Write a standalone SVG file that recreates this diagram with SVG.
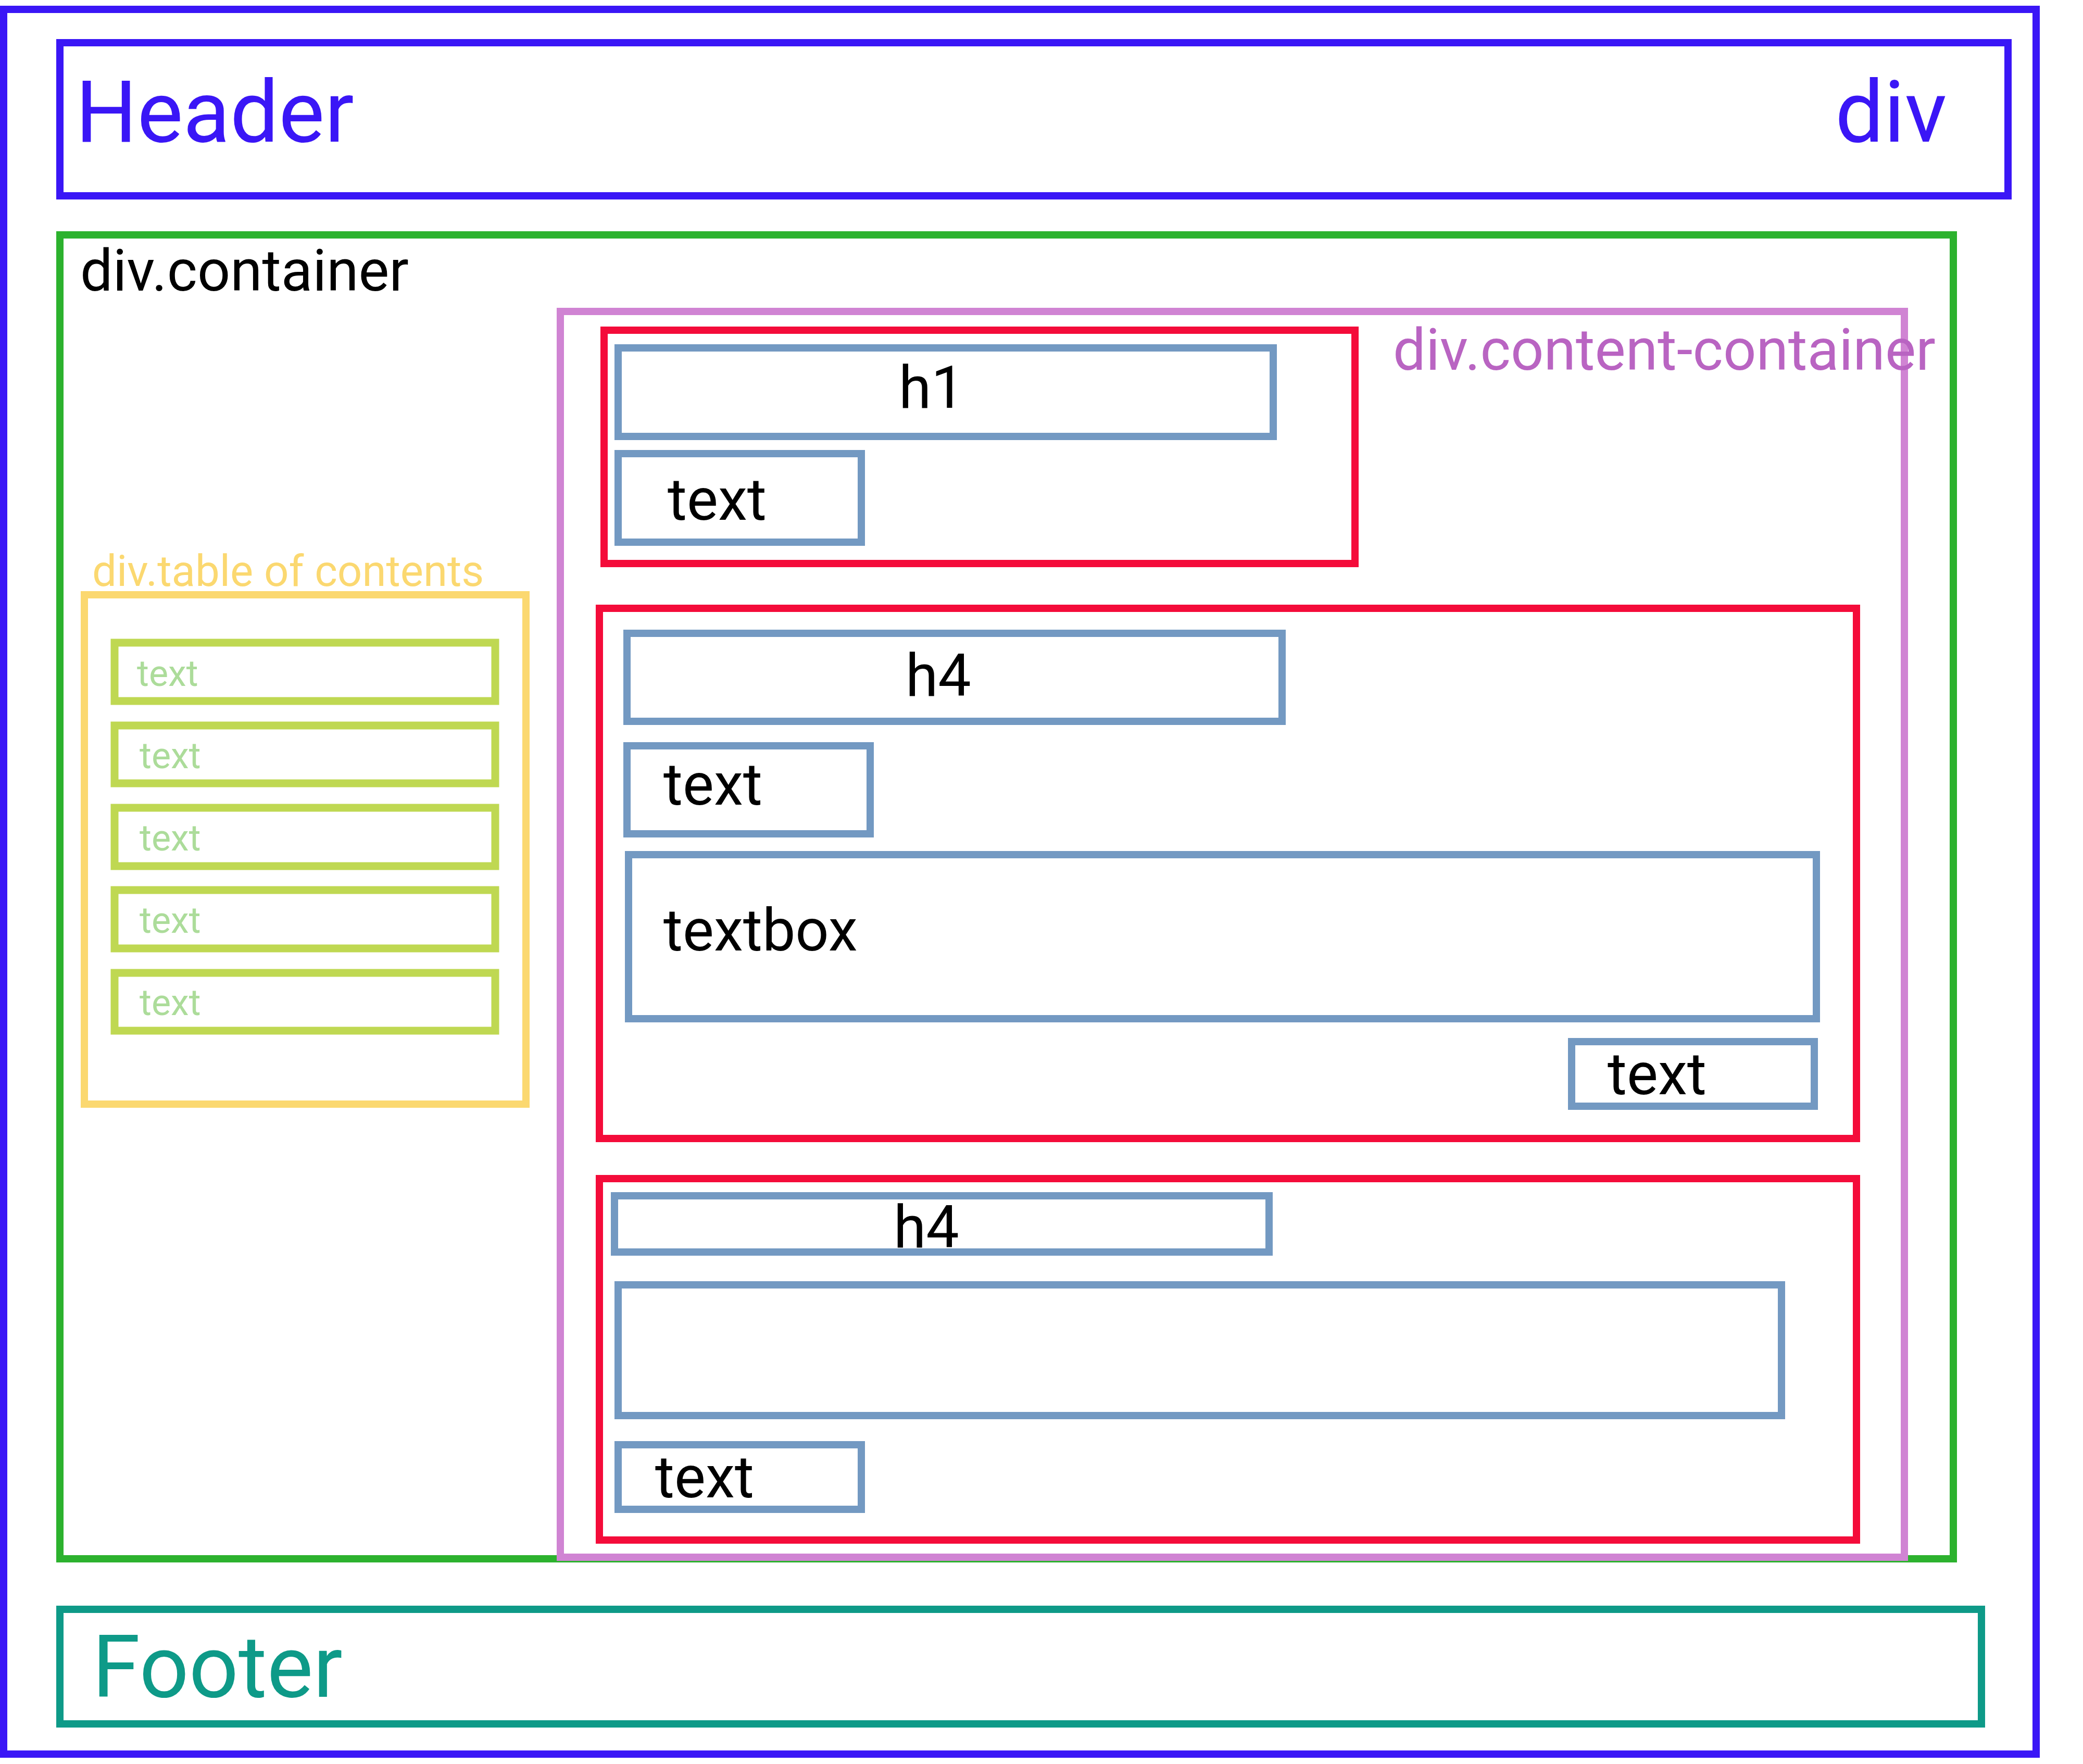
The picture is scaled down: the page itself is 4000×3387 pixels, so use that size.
<svg xmlns="http://www.w3.org/2000/svg" width="4000" height="3387" viewBox="0 0 4000 3387">
<style>
  rect { fill: none; stroke-width: 14; }
  text { font-family: Roboto, "Liberation Sans", sans-serif; }
  .outer { stroke: #3a16f6; }
  .green { stroke: #2cb22e; }
  .purple { stroke: #d084d3; }
  .red { stroke: #f40c3a; }
  .steel { stroke: #7399c2; }
  .yellow { stroke: #fbd870; }
  .lime { stroke: #bfd852; stroke-width: 15; }
  .teal { stroke: #0e9a88; }
  .big { font-size: 166px; }
  .mid { font-size: 113px; fill: #000; }
  .toc { font-size: 70px; fill: #acdc9a; }
</style>
<rect x="0" y="0" width="4000" height="3387" style="fill:#fff;stroke:none"/>

<g id="page">
  <rect class="outer" x="7" y="18" width="3903" height="3350"/>
</g>

<g id="header">
  <rect class="outer" x="115" y="82" width="3741" height="294"/>
  <text class="big" x="145" y="272" fill="#3a16f6">Header</text>
  <text class="big" x="3524" y="272" fill="#3a16f6">div</text>
</g>

<g id="container">
  <rect class="green" x="115" y="451" width="3636" height="2542"/>
  <text x="154" y="558" font-size="111" fill="#000">div.container</text>
</g>

<g id="toc">
  <rect class="yellow" x="162" y="1142" width="848" height="978"/>
  <text x="177" y="1125" font-size="83.4" fill="#fbd870">div.table of contents</text>
</g>

<g id="toc-item-1">
  <rect class="lime" x="220" y="1234" width="731" height="112"/>
  <text class="toc" x="263" y="1317">text</text>
</g>
<g id="toc-item-2">
  <rect class="lime" x="220" y="1393" width="731" height="111"/>
  <text class="toc" x="268" y="1475">text</text>
</g>
<g id="toc-item-3">
  <rect class="lime" x="220" y="1551" width="731" height="112"/>
  <text class="toc" x="268" y="1633">text</text>
</g>
<g id="toc-item-4">
  <rect class="lime" x="220" y="1709" width="731" height="112"/>
  <text class="toc" x="268" y="1791">text</text>
</g>
<g id="toc-item-5">
  <rect class="lime" x="220" y="1868" width="731" height="111"/>
  <text class="toc" x="268" y="1949">text</text>
</g>

<g id="content-container">
  <rect class="purple" x="1076" y="598" width="2581" height="2392"/>
  <text x="2675" y="710" font-size="111.5" fill="#b964c2">div.content-container</text>
</g>

<g id="section-1">
  <rect class="red" x="1160" y="634" width="1442" height="448"/>
</g>
<g id="h1">
  <rect class="steel" x="1187" y="668" width="1258" height="170"/>
  <text class="mid" x="1726" y="783">h1</text>
</g>
<g id="text-1">
  <rect class="steel" x="1187" y="871" width="467" height="170"/>
  <text class="mid" x="1282" y="998">text</text>
</g>

<g id="section-2">
  <rect class="red" x="1151" y="1168" width="2414" height="1018"/>
</g>
<g id="h4-1">
  <rect class="steel" x="1204" y="1216" width="1258" height="169"/>
  <text class="mid" x="1739" y="1336">h4</text>
</g>
<g id="text-2">
  <rect class="steel" x="1204" y="1432" width="467" height="169"/>
  <text class="mid" x="1274" y="1545">text</text>
</g>
<g id="textbox">
  <rect class="steel" x="1207" y="1641" width="2281" height="315"/>
  <text class="mid" x="1274" y="1825">textbox</text>
</g>
<g id="text-3">
  <rect class="steel" x="3018" y="2000" width="466" height="124"/>
  <text class="mid" x="3087" y="2101">text</text>
</g>

<g id="section-3">
  <rect class="red" x="1151" y="2263" width="2414" height="694"/>
</g>
<g id="h4-2">
  <rect class="steel" x="1180" y="2296" width="1257" height="108"/>
  <text class="mid" x="1716" y="2395">h4</text>
</g>
<g id="box-3">
  <rect class="steel" x="1187" y="2467" width="2234" height="251"/>
</g>
<g id="text-4">
  <rect class="steel" x="1187" y="2774" width="467" height="124"/>
  <text class="mid" x="1258" y="2875">text</text>
</g>

<g id="footer">
  <rect class="teal" x="115" y="3090" width="3690" height="220"/>
  <text x="177" y="3258" font-size="167" fill="#0e9a88">Footer</text>
</g>

<g id="connectors"></g>
</svg>
